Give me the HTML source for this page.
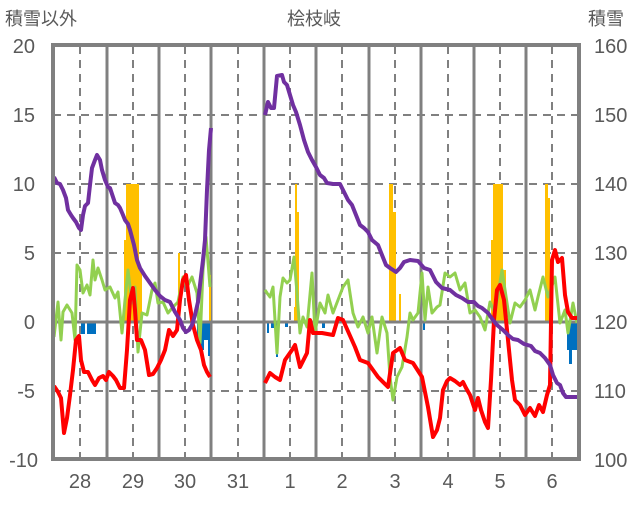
<!DOCTYPE html>
<html><head><meta charset="utf-8"><style>
body{margin:0;background:#fff}
svg text{font-family:"Liberation Sans","Noto Sans CJK JP",sans-serif;fill:#595959}
</style></head><body>
<svg width="636" height="501" viewBox="0 0 636 501" xmlns="http://www.w3.org/2000/svg">
<rect width="636" height="501" fill="#fff"/>
<!-- dashed horizontal grid -->
<g stroke="#808080" stroke-width="2" stroke-dasharray="8,6" fill="none">
<line x1="53" y1="115" x2="579" y2="115"/><line x1="53" y1="184" x2="579" y2="184"/>
<line x1="53" y1="253" x2="579" y2="253"/><line x1="53" y1="391" x2="579" y2="391"/>
<line x1="80" y1="46" x2="80" y2="459"/><line x1="133" y1="46" x2="133" y2="459"/>
<line x1="185" y1="46" x2="185" y2="459"/><line x1="238" y1="46" x2="238" y2="459"/>
<line x1="290" y1="46" x2="290" y2="459"/><line x1="342" y1="46" x2="342" y2="459"/>
<line x1="395" y1="46" x2="395" y2="459"/><line x1="448" y1="46" x2="448" y2="459"/>
<line x1="500" y1="46" x2="500" y2="459"/><line x1="552" y1="46" x2="552" y2="459"/>
</g>
<g stroke="#808080" stroke-width="3" fill="none">
<line x1="107" y1="46" x2="107" y2="459"/><line x1="159" y1="46" x2="159" y2="459"/>
<line x1="211" y1="46" x2="211" y2="459"/><line x1="264" y1="46" x2="264" y2="459"/>
<line x1="316" y1="46" x2="316" y2="459"/><line x1="369" y1="46" x2="369" y2="459"/>
<line x1="421" y1="46" x2="421" y2="459"/><line x1="474" y1="46" x2="474" y2="459"/>
<line x1="526" y1="46" x2="526" y2="459"/>
</g>
<!-- bars -->
<g fill="#ffc000">
<rect x="126" y="184" width="13" height="138"/><rect x="124" y="240" width="3" height="82"/><rect x="139" y="270" width="3" height="52"/>
<rect x="178" y="253" width="2" height="69"/><rect x="209" y="275" width="2" height="47"/>
<rect x="295" y="184" width="2" height="138"/><rect x="297" y="212" width="2" height="110"/><rect x="294" y="307" width="2" height="15"/>
<rect x="389" y="184" width="4" height="138"/><rect x="393" y="212" width="3" height="110"/><rect x="399" y="294" width="2" height="28"/>
<rect x="493" y="184" width="10" height="138"/><rect x="491" y="240" width="3" height="82"/><rect x="503" y="270" width="3" height="52"/>
<rect x="545" y="184" width="3" height="138"/><rect x="548" y="198" width="2" height="124"/>
</g>
<g fill="#0070c0">
<rect x="81" y="322" width="4" height="12"/><rect x="87" y="322" width="9" height="12"/>
<rect x="197" y="322" width="4" height="20"/><rect x="201" y="322" width="3" height="28"/><rect x="204" y="322" width="6" height="18"/><rect x="208" y="322" width="2" height="34"/>
<rect x="267" y="322" width="2" height="11"/><rect x="271" y="322" width="3" height="6"/><rect x="276" y="322" width="2" height="35"/><rect x="285" y="322" width="3" height="5"/>
<rect x="322" y="322" width="3" height="6"/><rect x="423" y="322" width="2" height="8"/>
<rect x="567" y="322" width="11" height="28"/><rect x="569" y="322" width="3" height="42"/>
</g>
<!-- zero line -->
<line x1="53" y1="322" x2="579" y2="322" stroke="#808080" stroke-width="3"/>
<!-- green -->
<g fill="none" stroke="#92d050" stroke-width="3" stroke-linejoin="round">
<polyline points="54,337 58,302 61,340 63,312 67,305 72,313 75,340 77,265 80,270 83,293 87,285 90,295 93,260 95,280 98,268 102,280 105,290 110,287 115,298 118,292 122,333 125,300 128,270 132,303 135,287 138,352 142,313 147,315 152,290 155,283 158,303 163,302 168,313 173,307 178,302 183,277 187,287 192,277 197,293 200,343 203,270 206,237 210,287"/>
<polyline points="265,290 267,293 270,297 273,287 277,353 280,297 283,278 287,283 290,280 294,257 297,293 300,333 303,317 307,327 312,273 315,333 320,303 325,313 328,295 333,313 338,300 343,287 348,280 353,313 358,327 363,317 368,333 372,317 377,353 382,317 387,333 390,377 393,400 397,377 402,367 407,337 410,313 413,320 418,313 422,273 425,320 428,287 432,313 437,307 440,305 445,273 450,277 455,273 460,290 465,283 470,313 475,310 480,317 485,330 490,302 495,313 502,270 507,303 510,323 515,303 520,307 525,300 530,290 535,310 538,297 543,277 548,297 555,277 560,323 565,310 568,333 573,303 577,323"/>
</g>
<!-- red -->
<g fill="none" stroke="#ff0000" stroke-width="4" stroke-linejoin="round">
<polyline points="54,386 58,392 61,398 64,433 67,418 70,395 73,370 76,340 79,336 81,360 84,372 88,372 92,380 95,385 99,378 103,376 106,380 109,372 113,376 116,380 120,388 124,388 127,350 130,300 133,288 135,310 137,340 141,340 145,350 149,375 153,374 157,368 161,360 165,350 169,330 173,336 177,330 180,300 183,280 186,275 189,300 193,325 197,340 201,350 204,365 207,372 210,377"/>
<polyline points="265,383 270,373 275,377 280,380 285,360 292,350 295,345 300,367 307,353 310,320 313,333 322,333 333,335 338,318 343,320 355,347 360,360 368,363 378,377 388,387 393,353 400,348 405,360 413,363 422,377 428,407 433,437 437,430 440,418 443,390 447,381 450,378 455,381 460,385 463,382 466,388 470,395 475,410 478,398 481,410 485,422 488,428 491,380 494,320 497,290 500,285 504,300 508,340 512,380 515,400 520,405 525,415 530,408 535,416 539,405 543,412 547,395 550,385 552,260 555,250 558,262 562,258 565,295 568,312 572,318 578,318"/>
</g>
<!-- purple -->
<g fill="none" stroke="#7030a0" stroke-width="4" stroke-linejoin="round">
<polyline points="54,177 57,183 60,184 63,190 66,198 68,210 71,215 73,218 76,222 79,228 81,230 83,215 85,206 88,203 90,185 92,168 95,160 97,155 100,160 102,170 105,180 108,187 110,188 113,197 115,203 118,205 120,208 123,215 125,220 128,224 130,230 134,245 137,260 140,268 145,276 150,283 155,290 160,296 165,300 170,302 175,312 180,320 183,328 186,332 189,330 192,325 195,315 198,302 200,285 203,260 205,240 207,190 209,150 211,128"/>
<polyline points="265,115 268,102 271,108 274,108 277,76 282,75 284,82 287,85 290,95 293,105 296,112 300,125 304,140 308,152 312,160 316,167 320,175 324,178 327,183 333,184 340,184 344,192 348,200 352,205 356,215 360,225 364,228 368,232 372,240 378,245 382,255 386,265 390,268 396,272 400,268 404,262 410,260 418,261 424,268 430,270 436,282 442,288 450,290 456,295 462,298 468,302 474,302 478,306 482,308 488,313 493,320 497,325 503,330 508,335 513,339 518,340 524,344 531,346 535,351 540,353 545,358 550,365 553,375 557,383 560,385 563,393 566,397 578,397"/>
</g>
<!-- frame -->
<rect x="53" y="45" width="526" height="414" fill="none" stroke="#808080" stroke-width="4"/>
<!-- labels -->
<g font-size="20">
<text x="5" y="25" font-size="18">積雪以外</text>
<text x="314" y="25" text-anchor="middle" font-size="18">桧枝岐</text>
<text x="588" y="25" font-size="18">積雪</text>
<g text-anchor="end">
<text x="35" y="53">20</text><text x="35" y="122">15</text><text x="35" y="191">10</text>
<text x="35" y="260">5</text><text x="35" y="329">0</text><text x="35" y="398">-5</text><text x="38" y="467">-10</text>
</g>
<g>
<text x="594" y="53">160</text><text x="594" y="122">150</text><text x="594" y="191">140</text>
<text x="594" y="260">130</text><text x="594" y="329">120</text><text x="594" y="398">110</text><text x="594" y="467">100</text>
</g>
<g text-anchor="middle">
<text x="80" y="488">28</text><text x="133" y="488">29</text><text x="185" y="488">30</text><text x="238" y="488">31</text>
<text x="290" y="488">1</text><text x="342" y="488">2</text><text x="395" y="488">3</text><text x="448" y="488">4</text>
<text x="500" y="488">5</text><text x="552" y="488">6</text>
</g>
</g>
</svg>
</body></html>
